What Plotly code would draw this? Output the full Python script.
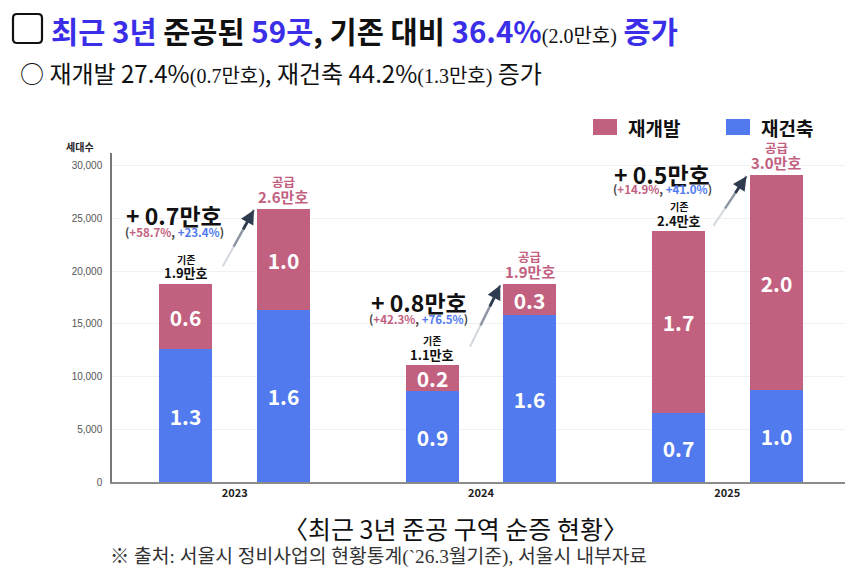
import plotly.graph_objects as go

# ---------------- data ----------------
years = ["2023", "2024", "2025"]
rebuild_existing = [12600, 8600, 6500]     # 재건축 기존
redev_existing = [6200, 2450, 17300]       # 재개발 기존
rebuild_supply = [16300, 15800, 8700]      # 재건축 공급
redev_supply = [9600, 2950, 20400]         # 재개발 공급

rebuild_existing_lbl = ["1.3", "0.9", "0.7"]
redev_existing_lbl = ["0.6", "0.2", "1.7"]
rebuild_supply_lbl = ["1.6", "1.6", "1.0"]
redev_supply_lbl = ["1.0", "0.3", "2.0"]

existing_total_lbl = ["1.9만호", "1.1만호", "2.4만호"]
supply_total_lbl = ["2.6만호", "1.9만호", "3.0만호"]
increase_lbl = ["+ 0.7만호", "+ 0.8만호", "+ 0.5만호"]
redev_pct = ["+58.7%", "+42.3%", "+14.9%"]
rebuild_pct = ["+23.4%", "+76.5%", "+41.0%"]

y_ticks = [0, 5000, 10000, 15000, 20000, 25000, 30000]

# ---------------- style ----------------
PINK = "#c2607f"
BLUE = "#507aee"
TITLE_BLUE = "#3a2ee8"
SANS = "Noto Sans CJK KR"
SERIF = "Liberation Serif, Noto Sans CJK KR"

# page has an 8px body margin, so the figure is drawn 8px smaller
W, H = 852, 576
L, R, T, B = 104, 15, 145, 102
PW, PH = W - L - R, H - T - B
PLOT_LEFT, PLOT_BOTTOM = 112, 481   # plot area position in the window

OFF, BW = 0.198, 0.215


def px(x):
    return (x - PLOT_LEFT) / PW


def py(y):
    return (PLOT_BOTTOM - y) / PH


x_exist = [i - OFF for i in range(len(years))]
x_sup = [i + OFF for i in range(len(years))]

fig = go.Figure()
bar_common = dict(width=BW, textposition="inside", insidetextanchor="middle",
                  texttemplate="<b>%{text}</b>",
                  textfont=dict(color="white", size=21, family=SANS),
                  hoverinfo="skip", showlegend=False)
fig.add_trace(go.Bar(x=x_exist, y=rebuild_existing, text=rebuild_existing_lbl,
                     marker=dict(color=BLUE, line=dict(width=0)), **bar_common))
fig.add_trace(go.Bar(x=x_sup, y=rebuild_supply, text=rebuild_supply_lbl,
                     marker=dict(color=BLUE, line=dict(width=0)), **bar_common))
fig.add_trace(go.Bar(x=x_exist, y=redev_existing, text=redev_existing_lbl,
                     marker=dict(color=PINK, line=dict(width=0)), **bar_common))
fig.add_trace(go.Bar(x=x_sup, y=redev_supply, text=redev_supply_lbl,
                     marker=dict(color=PINK, line=dict(width=0)), **bar_common))

annotations = []
shapes = []

inc_dx = [-0.246, -0.252, -0.265]
inc_shift = [69, 63, 57]
pct_shift = [52, 46, 42]
arrow_off = [(-32, 58), (-31, 63), (-34, 51)]

for i in range(len(years)):
    top_e = rebuild_existing[i] + redev_existing[i]
    top_s = rebuild_supply[i] + redev_supply[i]
    annotations.append(dict(x=x_exist[i], y=top_e, xref="x", yref="y", showarrow=False,
                            text="<b>" + existing_total_lbl[i] + "</b>", yanchor="middle",
                            yshift=11, font=dict(size=13, color="#111", family=SANS)))
    annotations.append(dict(x=x_exist[i], y=top_e, xref="x", yref="y", showarrow=False,
                            text="<b>기존</b>", yanchor="middle",
                            yshift=24.5, font=dict(size=10, color="#111", family=SANS)))
    annotations.append(dict(x=x_sup[i], y=top_s, xref="x", yref="y", showarrow=False,
                            text="<b>" + supply_total_lbl[i] + "</b>", yanchor="middle",
                            yshift=12.5, font=dict(size=15, color=PINK, family=SANS)))
    annotations.append(dict(x=x_sup[i], y=top_s, xref="x", yref="y", showarrow=False,
                            text="<b>공급</b>", yanchor="middle",
                            yshift=27.5, font=dict(size=12.5, color=PINK, family=SANS)))
    annotations.append(dict(x=i + inc_dx[i], y=top_e, xref="x", yref="y", showarrow=False,
                            text="<b>" + increase_lbl[i] + "</b>", yanchor="middle",
                            yshift=inc_shift[i], font=dict(size=23, color="#111", family=SANS)))
    annotations.append(dict(x=i + inc_dx[i], y=top_e, xref="x", yref="y", showarrow=False,
                            text=("<b>(<span style='color:%s'>%s</span>, "
                                  "<span style='color:%s'>%s</span>)</b>")
                            % (PINK, redev_pct[i], BLUE, rebuild_pct[i]),
                            yanchor="middle", yshift=pct_shift[i],
                            font=dict(size=11.5, color="#444", family=SANS)))
    # gradient arrow (three overlapping pieces)
    hx = x_sup[i] - BW / 2
    ax, ay = arrow_off[i]
    for frac, col, head, wdt in [(1.0, "#d3d7de", 0, 2.0), (0.66, "#8e96a4", 0, 2.4),
                                 (0.36, "#2f3b4e", 2, 2.8)]:
        annotations.append(dict(x=hx, y=top_s, xref="x", yref="y", text="",
                                showarrow=True, ax=ax * frac, ay=ay * frac,
                                xshift=-3, yshift=-1,
                                arrowhead=head, arrowsize=1.0, arrowwidth=wdt,
                                arrowcolor=col, standoff=0))

# axis title
annotations.append(dict(x=px(80), y=py(146), xref="paper", yref="paper", showarrow=False,
                        xanchor="center", yanchor="middle",
                        text="<b>세대수</b>", font=dict(size=10, color="#222", family=SANS)))

# legend (manual)
for x0, col, label in [(593, PINK, "재개발"), (726, BLUE, "재건축")]:
    shapes.append(dict(type="rect", xref="paper", yref="paper", x0=px(x0), x1=px(x0 + 24),
                       y0=py(134), y1=py(118), fillcolor=col, line=dict(width=0)))
    annotations.append(dict(x=px(x0 + 33), y=py(126), xref="paper", yref="paper",
                            showarrow=False, xanchor="left", yanchor="middle",
                            text="<b>" + label + "</b>",
                            font=dict(size=19, color="#111", family=SANS)))

# title
title_txt = ("<b><span style='color:%s'>최근 3년</span> 준공된 "
             "<span style='color:%s'>59곳</span>, 기존 대비 "
             "<span style='color:%s'>36.4%%</span></b>"
             "<span style='font-size:20px;font-family:Liberation Serif, Noto Sans CJK KR'>(2.0만호)</span>"
             " <b><span style='color:%s'>증가</span></b>") % (TITLE_BLUE, TITLE_BLUE, TITLE_BLUE, TITLE_BLUE)
annotations.append(dict(x=px(49), y=py(29), xref="paper", yref="paper", showarrow=False,
                        xanchor="left", yanchor="middle", text=title_txt,
                        font=dict(size=29.5, color="#111", family=SANS)))
# title box (rounded square)
bx0, by0, bx1, by1, rr = px(13), py(13), px(42), py(42), 4
rx, ry = rr / PW, rr / PH
path = ("M %f %f L %f %f Q %f %f %f %f L %f %f Q %f %f %f %f L %f %f Q %f %f %f %f L %f %f Q %f %f %f %f Z"
        % (bx0 + rx, by0, bx1 - rx, by0, bx1, by0, bx1, by0 - ry,
           bx1, by1 + ry, bx1, by1, bx1 - rx, by1,
           bx0 + rx, by1, bx0, by1, bx0, by1 + ry,
           bx0, by0 - ry, bx0, by0, bx0 + rx, by0))
shapes.append(dict(type="path", xref="paper", yref="paper", path=path,
                   line=dict(color="#111", width=2.2), fillcolor="rgba(0,0,0,0)"))

# subtitle
sub_txt = ("○ 재개발 27.4%<span style='font-size:20px;font-family:Liberation Serif, Noto Sans CJK KR'>(0.7만호)</span>, "
           "재건축 44.2%<span style='font-size:20px;font-family:Liberation Serif, Noto Sans CJK KR'>(1.3만호)</span> 증가")
annotations.append(dict(x=px(18), y=py(72), xref="paper", yref="paper", showarrow=False,
                        xanchor="left", yanchor="middle", text=sub_txt,
                        font=dict(size=24, color="#111", family=SANS)))

# caption and source
annotations.append(dict(x=px(455), y=py(527), xref="paper", yref="paper", showarrow=False,
                        xanchor="center", yanchor="middle",
                        text="〈최근 3년 준공 구역 순증 현황〉",
                        font=dict(size=25, color="#111", family=SANS)))
annotations.append(dict(x=px(108), y=py(556), xref="paper", yref="paper", showarrow=False,
                        xanchor="left", yanchor="middle",
                        text="※ 출처: 서울시 정비사업의 현황통계(`26.3월기준), 서울시 내부자료",
                        font=dict(size=19.3, color="#333", family=SERIF)))

fig.update_layout(
    width=W, height=H, margin=dict(l=L, r=R, t=T, b=B, autoexpand=False),
    paper_bgcolor="white", plot_bgcolor="white",
    barmode="stack", bargap=0,
    uniformtext=dict(minsize=21, mode="show"),
    annotations=annotations, shapes=shapes, showlegend=False,
    xaxis=dict(range=[-0.498, 2.478], tickvals=list(range(len(years))),
               ticktext=["<b>%s</b>" % y for y in years],
               tickfont=dict(size=11, color="#222", family=SANS),
               showgrid=False, zeroline=False, showline=True, linecolor="#8c8c8c",
               linewidth=2, ticks="", fixedrange=True),
    yaxis=dict(range=[0, 31200], tickvals=y_ticks, tickformat=",",
               tickfont=dict(size=10, color="#555", family="Liberation Sans"),
               showgrid=True, gridcolor="#f1f1f1", gridwidth=1,
               zeroline=False, showline=True, linecolor="#777", linewidth=1.5,
               ticks="", ticklabelstandoff=6, fixedrange=True),
)

fig.write_html("out.html")
